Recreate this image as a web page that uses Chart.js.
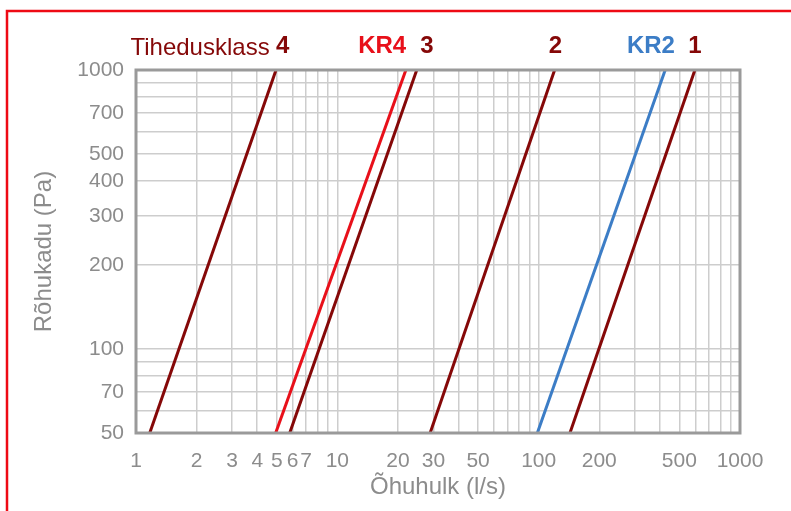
<!DOCTYPE html>
<html>
<head>
<meta charset="utf-8">
<script src="https://cdn.jsdelivr.net/npm/chart.js@4"></script>
<style>
  html, body { margin: 0; padding: 0; background: #fff; }
  #wrap { width: 791px; height: 511px; }
</style>
</head>
<body>
<div id="wrap"><canvas id="chart" width="791" height="511"></canvas></div>
<script>
// pressure drop (Pa) at the two ends of each line
const pressure = [50, 1000];

// air flow (l/s) at 50 Pa and at 1000 Pa
const class4 = [1.17, 4.96];
const kr4 = [4.94, 21.9];
const class3 = [5.8, 24.8];
const class2 = [28.9, 120];
const kr2 = [98.5, 425];
const class1 = [143, 597];

const seriesNames = ['4', 'KR4', '3', '2', 'KR2', '1'];
const seriesFlows = [class4, kr4, class3, class2, kr2, class1];
const seriesColors = ['#850808', '#e8101a', '#850808', '#850808', '#3c7dc6', '#850808'];
// where the label over each line sits, in l/s
const labelFlow = [5.35, 16.7, 27.9, 121, 361, 597];
const classTitle = 'Tihedusklass';
const classTitleFlow = 4.61;

const xTickLabels = [1, 2, 3, 4, 5, 6, 7, 10, 20, 30, 50, 100, 200, 500, 1000];
const yTickLabels = [50, 70, 100, 200, 300, 400, 500, 700, 1000];

// every decade step gets a grid line
function decadeSteps(from, to) {
  const out = [];
  for (let d = from; d < to; d *= 10) {
    for (let k = 1; k < 10; k++) {
      const v = d * k;
      if (v >= from && v <= to) out.push(v);
    }
  }
  out.push(to);
  return out;
}
const xGrid = decadeSteps(1, 1000);
const yGrid = decadeSteps(10, 1000).filter(v => v >= 50);

const tickFont = { family: 'Liberation Sans, Arial, sans-serif', size: 21 };
const tickColor = '#8c8c8c';

const datasets = seriesFlows.map((flows, i) => ({
  label: seriesNames[i],
  data: flows.map((q, j) => ({ x: q, y: pressure[j] })),
  borderColor: seriesColors[i],
  backgroundColor: seriesColors[i],
  borderWidth: 3,
  pointRadius: 0,
  showLine: true
}));

const decorations = {
  id: 'decorations',
  beforeDraw(chart) {
    const ctx = chart.ctx;
    ctx.save();
    ctx.strokeStyle = '#ee0a14';
    ctx.lineWidth = 2.5;
    ctx.beginPath();
    ctx.moveTo(791, 11);
    ctx.lineTo(7, 11);
    ctx.lineTo(7, 511);
    ctx.stroke();
    ctx.restore();
  },
  afterDraw(chart) {
    const ctx = chart.ctx;
    const a = chart.chartArea;
    const xs = chart.scales.x;
    ctx.save();
    ctx.strokeStyle = '#9a9a9a';
    ctx.lineWidth = 3;
    ctx.strokeRect(a.left, a.top, a.right - a.left, a.bottom - a.top);

    ctx.textBaseline = 'middle';
    const ly = 46;
    ctx.font = '24px Liberation Sans, Arial, sans-serif';
    ctx.fillStyle = '#850808';
    ctx.textAlign = 'right';
    ctx.fillText(classTitle, xs.getPixelForValue(classTitleFlow), ly + 2);

    ctx.font = 'bold 24px Liberation Sans, Arial, sans-serif';
    ctx.textAlign = 'center';
    seriesNames.forEach((name, i) => {
      ctx.fillStyle = seriesColors[i];
      ctx.fillText(name, xs.getPixelForValue(labelFlow[i]), ly);
    });
    ctx.restore();
  }
};

new Chart(document.getElementById('chart').getContext('2d'), {
  type: 'scatter',
  data: { datasets },
  options: {
    responsive: false,
    animation: false,
    layout: { padding: { left: 0, top: 70, right: 51, bottom: 0 } },
    plugins: { legend: { display: false }, tooltip: { enabled: false } },
    scales: {
      x: {
        type: 'logarithmic',
        min: 1,
        max: 1000,
        afterBuildTicks: s => { s.ticks = xGrid.map(v => ({ value: v })); },
        afterFit: s => { s.height = 78; },
        ticks: {
          autoSkip: false,
          maxRotation: 0,
          padding: 16,
          color: tickColor,
          font: tickFont,
          callback: v => xTickLabels.includes(v) ? String(v) : ''
        },
        grid: { color: '#cdcdcd', lineWidth: 1.5, drawTicks: false },
        border: { display: false },
        title: {
          display: true,
          text: 'Õhuhulk (l/s)',
          color: tickColor,
          font: { family: 'Liberation Sans, Arial, sans-serif', size: 24 },
          padding: { bottom: 9 }
        }
      },
      y: {
        type: 'logarithmic',
        min: 50,
        max: 1000,
        afterBuildTicks: s => { s.ticks = yGrid.map(v => ({ value: v })); },
        afterFit: s => { s.width = 136; },
        ticks: {
          autoSkip: false,
          padding: 12,
          color: tickColor,
          font: tickFont,
          callback: v => yTickLabels.includes(v) ? String(v) : ''
        },
        grid: { color: '#cdcdcd', lineWidth: 1.5, drawTicks: false },
        border: { display: false },
        title: {
          display: true,
          text: 'Rõhukadu (Pa)',
          color: tickColor,
          font: { family: 'Liberation Sans, Arial, sans-serif', size: 24 },
          padding: { top: 30 }
        }
      }
    }
  },
  plugins: [decorations]
});
</script>
</body>
</html>
